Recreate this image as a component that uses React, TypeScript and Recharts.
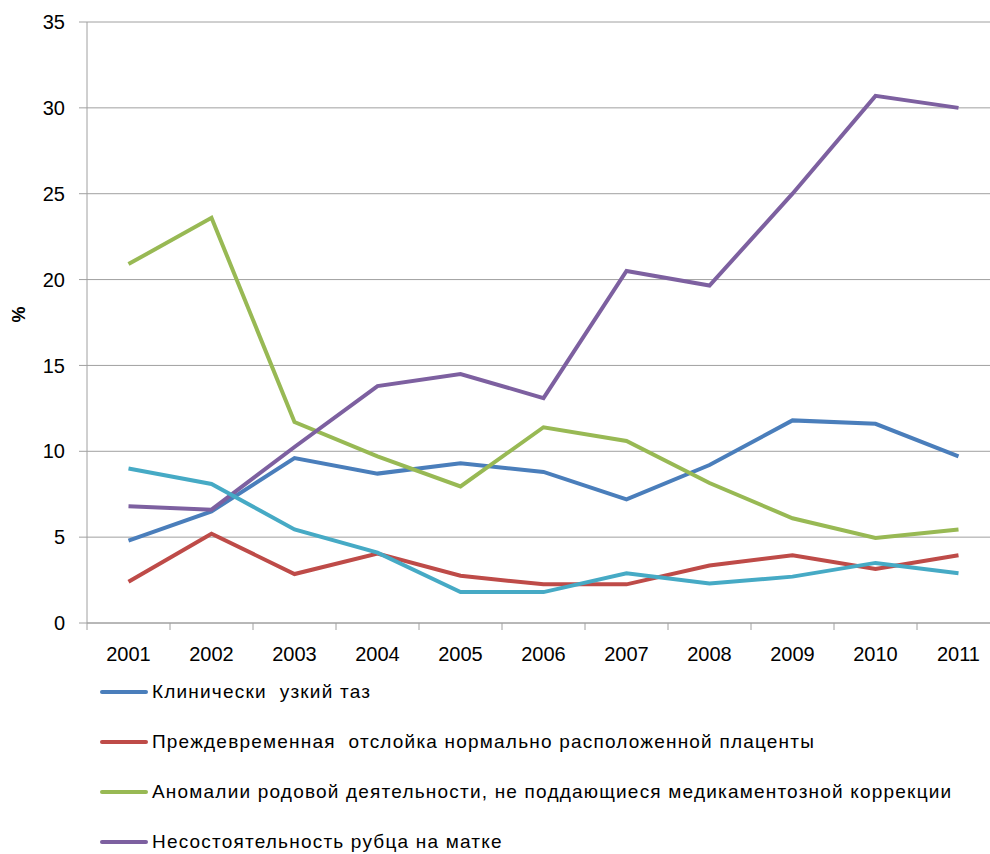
import { LineChart, Line, XAxis, YAxis, CartesianGrid, Legend } from "recharts";

const years = ["2001", "2002", "2003", "2004", "2005", "2006", "2007", "2008", "2009", "2010", "2011"];

// values in %
const narrowPelvis = [4.8, 6.5, 9.6, 8.7, 9.3, 8.8, 7.2, 9.2, 11.8, 11.6, 9.7];
const placentalAbruption = [2.4, 5.2, 2.85, 4.05, 2.75, 2.25, 2.25, 3.35, 3.95, 3.15, 3.95];
const laborAnomalies = [20.9, 23.6, 11.7, 9.7, 7.95, 11.4, 10.6, 8.15, 6.1, 4.95, 5.45];
const uterineScar = [6.8, 6.6, 10.25, 13.8, 14.5, 13.1, 20.5, 19.65, 25.0, 30.7, 30.0];
const otherSeries = [9.0, 8.1, 5.45, 4.1, 1.8, 1.8, 2.9, 2.3, 2.7, 3.5, 2.9];

const yTicks = [0, 5, 10, 15, 20, 25, 30, 35];

const series = [
  { key: "narrow", name: "Клинически  узкий таз", color: "#4A7EBB", legend: true },
  { key: "abruption", name: "Преждевременная  отслойка нормально расположенной плаценты", color: "#BE4B48", legend: true },
  { key: "labor", name: "Аномалии родовой деятельности, не поддающиеся медикаментозной коррекции", color: "#98B954", legend: true },
  { key: "scar", name: "Несостоятельность рубца на матке", color: "#7D60A0", legend: true },
  { key: "other", name: "other", color: "#46AAC5", legend: false },
];

const data = years.map((year, i) => ({
  year,
  narrow: narrowPelvis[i],
  abruption: placentalAbruption[i],
  labor: laborAnomalies[i],
  scar: uterineScar[i],
  other: otherSeries[i],
}));

const FONT = "'Liberation Sans', Arial, sans-serif";
const BAND = 83;
const AXIS_GREY = "#a0a0a0";

// category label plus tick marks on the band boundaries (Excel style)
function YearTick(props: any) {
  const { x, y, payload, index } = props;
  const last = index === years.length - 1;
  return (
    <g>
      <line x1={x - BAND / 2} x2={x - BAND / 2} y1={y} y2={y + 7} stroke={AXIS_GREY} />
      {last && <line x1={x + BAND / 2} x2={x + BAND / 2} y1={y} y2={y + 7} stroke={AXIS_GREY} />}
      <text x={x} y={y + 24} dy="0.71em" textAnchor="middle" fill="#000" fontSize={20} fontFamily={FONT}>
        {payload.value}
      </text>
    </g>
  );
}

function LegendBox() {
  return (
    <div style={{ height: 180, fontFamily: FONT, fontSize: 19, letterSpacing: 1.2, color: "#000" }}>
      {series
        .filter((s) => s.legend)
        .map((s) => (
          <div key={s.key} style={{ height: 50, display: "flex", alignItems: "center", whiteSpace: "pre" }}>
            <div
              style={{
                width: 48,
                height: 4,
                borderRadius: 2,
                background: s.color,
                marginLeft: 100,
                marginRight: 4,
              }}
            />
            <span>{s.name}</span>
          </div>
        ))}
    </div>
  );
}

export default function App() {
  return (
    <div style={{ position: "fixed", left: 0, top: 0, width: 990, height: 854, overflow: "hidden", background: "#fff" }}>
      <LineChart width={1010} height={854} data={data} margin={{ top: 22, right: 10, left: 0, bottom: 0 }}>
        <CartesianGrid vertical={false} stroke={AXIS_GREY} strokeWidth={1} />
        <XAxis
          dataKey="year"
          height={51}
          stroke={AXIS_GREY}
          tickLine={false}
          tickSize={0}
          tickMargin={0}
          tick={<YearTick />}
          interval={0}
          padding={{ left: BAND / 2, right: BAND / 2 }}
        />
        <YAxis
          width={87}
          domain={[0, 35]}
          ticks={yTicks}
          stroke={AXIS_GREY}
          tickSize={8}
          tickMargin={14}
          tick={{ fill: "#000", fontSize: 20, fontFamily: FONT }}
          label={{
            value: "%",
            angle: -90,
            position: "insideLeft",
            offset: 19,
            style: { fill: "#000", fontSize: 18, fontWeight: "bold", fontFamily: FONT },
          }}
        />
        <Legend
          content={<LegendBox />}
          verticalAlign="bottom"
          wrapperStyle={{ left: 0, top: 667, bottom: "auto", width: 990 }}
        />
        {series.map((s) => (
          <Line
            key={s.key}
            dataKey={s.key}
            name={s.name}
            stroke={s.color}
            strokeWidth={4}
            dot={false}
            type="linear"
            isAnimationActive={false}
          />
        ))}
      </LineChart>
    </div>
  );
}
